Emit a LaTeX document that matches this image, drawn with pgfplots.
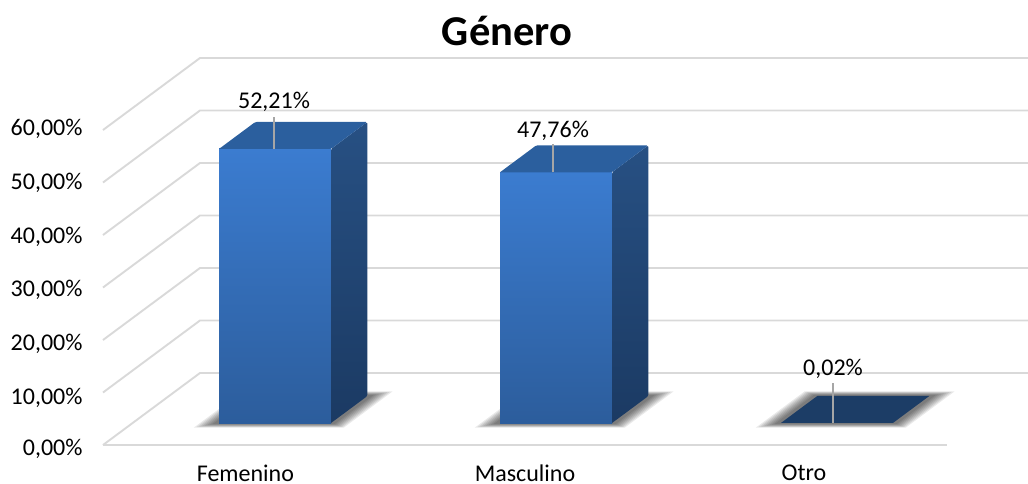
\documentclass[border=0pt]{standalone}
\usepackage{fontspec}
\setmainfont{Carlito}
\usepackage{pgfplots}
\pgfplotsset{compat=1.18}

\definecolor{gridgray}{HTML}{D9D9D9}
\definecolor{frontA}{HTML}{3B7CD0}
\definecolor{frontB}{HTML}{2C5D9C}
\definecolor{sideA}{HTML}{275083}
\definecolor{sideB}{HTML}{1B3A63}
\definecolor{topface}{HTML}{2B5F9E}
\definecolor{flatface}{HTML}{1C3D66}
\definecolor{leader}{HTML}{A6A6A6}

% x runs along the floor, y is depth of the floor, z the percentage
\newcommand\shadowlayer[4]{%
  \pgfmathsetmacro\sxl{#1-#3}%
  \pgfmathsetmacro\sxr{#2+#3}%
  \pgfmathsetmacro\sya{22-#4}%
  \pgfmathsetmacro\syb{49+#4}%
  \addplot3[draw=none,fill=black,fill opacity=0.085,mark=none,forget plot]
    coordinates {(\sxl,\sya,0) (\sxr,\sya,0) (\sxr,\syb,0) (\sxl,\syb,0) (\sxl,\sya,0)};
}
\newcommand\floorshadow[2]{%
  \shadowlayer{#1}{#2}{19}{4.5}%
  \shadowlayer{#1}{#2}{17}{4}%
  \shadowlayer{#1}{#2}{15}{3.5}%
  \shadowlayer{#1}{#2}{13}{3}%
  \shadowlayer{#1}{#2}{11}{2.5}%
  \shadowlayer{#1}{#2}{9}{2}%
  \shadowlayer{#1}{#2}{7}{1.5}%
  \shadowlayer{#1}{#2}{5}{1}%
}
\newcommand\barbox[3]{%
  \addplot3[draw=none,top color=frontA,bottom color=frontB,mark=none,forget plot]
    coordinates {(#1,22,0) (#2,22,0) (#2,22,#3) (#1,22,#3) (#1,22,0)};
  \addplot3[draw=none,top color=sideA,bottom color=sideB,mark=none,forget plot,rounded corners=1.5pt]
    coordinates {(#2,22,0) (#2,49,0) (#2,49,#3) (#2,22,#3) (#2,22,0)};
  \addplot3[draw=none,fill=topface,mark=none,forget plot,rounded corners=1.5pt]
    coordinates {(#1,22,#3) (#2,22,#3) (#2,49,#3) (#1,49,#3) (#1,22,#3)};
}

\begin{document}
\begin{tikzpicture}
\path[use as bounding box] (0pt,0pt) rectangle (1028pt,483pt);
\begin{axis}[
  at={(103pt,38pt)},anchor=origin,
  x={(1pt,0pt)},y={(1.347pt,1pt)},z={(0pt,5.25pt)},
  xmin=0,xmax=844,ymin=0,ymax=72,zmin=0,zmax=60,
  clip=false,
  axis line style={draw=none},
  tick style={draw=none},
  major tick length=0pt,
  xtick={142.4,422,701},
  xticklabels={Femenino,Masculino,Otro},
  ytick=\empty,
  ztick={0,10,...,60},
  zticklabel={\pgfmathprintnumber{\tick}\%},
  /pgf/number format/.cd,fixed,fixed zerofill,precision=2,use comma,assume math mode=true,
  /pgfplots/.cd,
  tick label style={font=\fontsize{24}{28}\selectfont,text=black},
  xticklabel style={anchor=north,yshift=-16pt},
  zticklabel style={xshift=-17pt,yshift={7pt+\ticknum*1.17pt}},
]
% walls and floor
\pgfplotsinvokeforeach{0,10,...,60}{
  \addplot3[gridgray,line width=1.9pt,mark=none,forget plot]
    coordinates {(0,0,#1) (0,72,#1) (844,72,#1)};
}
\addplot3[gridgray,line width=1.9pt,mark=none,forget plot]
  coordinates {(0,0,0) (844,0,0)};

\floorshadow{86.4}{198.4}
\floorshadow{367.4}{479.4}
\floorshadow{648.4}{760.4}

\barbox{86.4}{198.4}{52.21}
\barbox{367.4}{479.4}{47.76}
\addplot3[draw=none,fill=flatface,mark=none,forget plot]
  coordinates {(648.4,22,0.02) (760.4,22,0.02) (760.4,49,0.02) (648.4,49,0.02) (648.4,22,0.02)};

% leader lines with the value labels
\addplot3[leader,line width=1.2pt,mark=none,forget plot]
  coordinates {(141.4,22,52.21) (141.4,22,58.3)};
\addplot3[leader,line width=1.2pt,mark=none,forget plot]
  coordinates {(420.4,22,47.76) (420.4,22,53.1)};
\addplot3[leader,line width=1.2pt,mark=none,forget plot]
  coordinates {(700.4,22,0.02) (700.4,22,7.6)};
\node[font=\fontsize{24}{28}\selectfont,anchor=center] at (axis cs:141.4,22,61.15) {52,21\%};
\node[font=\fontsize{24}{28}\selectfont,anchor=center] at (axis cs:420.4,22,55.65) {47,76\%};
\node[font=\fontsize{24}{28}\selectfont,anchor=center] at (axis cs:700.4,22,10.4) {0,02\%};
\end{axis}
\node[font=\fontsize{42.5}{48}\selectfont\bfseries,anchor=center] at (507pt,452pt) {Género};
\end{tikzpicture}
\end{document}
